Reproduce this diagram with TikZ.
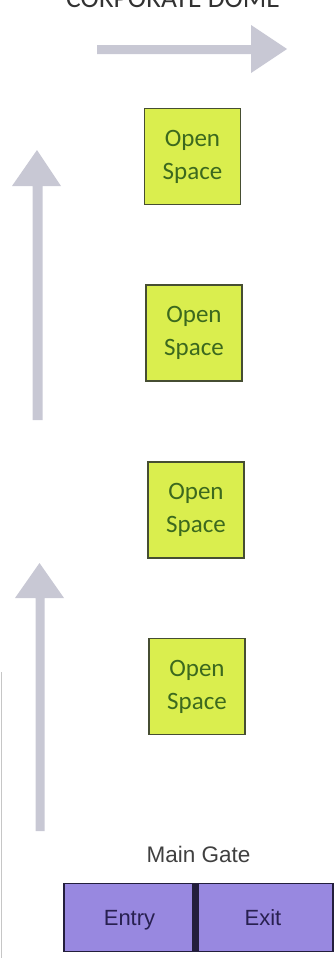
\documentclass[tikz,border=0pt]{standalone}
\usepackage{fontspec}
\setmainfont{Liberation Sans}
\newfontfamily\calfont{Carlito}
\definecolor{arrowgray}{RGB}{200,200,212}
\definecolor{openfill}{RGB}{218,238,78}
\definecolor{openborder}{RGB}{70,78,50}
\definecolor{opentext}{RGB}{60,105,30}
\definecolor{gatefill}{RGB}{152,136,224}
\definecolor{gateborder}{RGB}{35,30,60}
\definecolor{gatetext}{RGB}{40,32,80}
\definecolor{titletext}{RGB}{50,50,50}
\begin{document}
\begin{tikzpicture}[x=1pt,y=-1pt,
  openbox/.style={draw=openborder,line width=1.2pt,fill=openfill,minimum width=96pt,minimum height=96pt,inner sep=0pt,align=center,text=opentext,font=\calfont\fontsize{25}{33}\selectfont},
  gatebox/.style={draw=gateborder,line width=1.2pt,fill=gatefill,minimum height=68pt,inner sep=0pt,text=gatetext,font=\fontsize{22}{26}\selectfont},
  bigarrow/.style={fill=arrowgray,draw=none}]
\useasboundingbox (0,0) rectangle (335,964);
% title
\node[anchor=base,text=titletext,font=\calfont\fontsize{27.5}{30}\selectfont] (title) at (173,7) {CORPORATE DOME};
% right arrow
\coordinate (ra) at (97,49);
\coordinate (rt) at (287,49);
\fill[bigarrow] (97,45) -- (251,45) -- (251,25) -- (rt) -- (251,73) -- (251,54) -- (97,54) -- cycle;
% up arrow 1
\coordinate (u1t) at (37,150);
\fill[bigarrow] (32.5,420) -- (32.5,186) -- (12,186) -- (u1t) -- (61,186) -- (42.5,186) -- (42.5,420) -- cycle;
% up arrow 2
\coordinate (u2t) at (39.5,563);
\fill[bigarrow] (35.5,831) -- (35.5,598) -- (15,598) -- (u2t) -- (64,598) -- (44.5,598) -- (44.5,831) -- cycle;
% open spaces
\node[openbox] (o1) at (192.5,156.5) {Open\\Space};
\node[openbox] (o2) at (194,333) {Open\\Space};
\node[openbox] (o3) at (196,510) {Open\\Space};
\node[openbox] (o4) at (197,686.5) {Open\\Space};
% main gate
\node[anchor=base,text=black!75,font=\fontsize{22.5}{26}\selectfont] (mg) at (198.5,862) {Main Gate};
\node[gatebox,minimum width=129pt] (entry) at (128.5,917.5) {};
\node[gatebox,minimum width=135pt] (exit) at (265.5,917.5) {};
\node[anchor=base,text=gatetext,font=\fontsize{22}{26}\selectfont] (entrytxt) at (129.5,925) {Entry};
\node[anchor=base,text=gatetext,font=\fontsize{22}{26}\selectfont] (exittxt) at (263,925) {Exit};
\fill[gateborder] (192,883) rectangle (198,952);
% faint edge line
\draw[gray!45,line width=1pt] (1.5,672) -- (1.5,958);
\end{tikzpicture}
\end{document}
